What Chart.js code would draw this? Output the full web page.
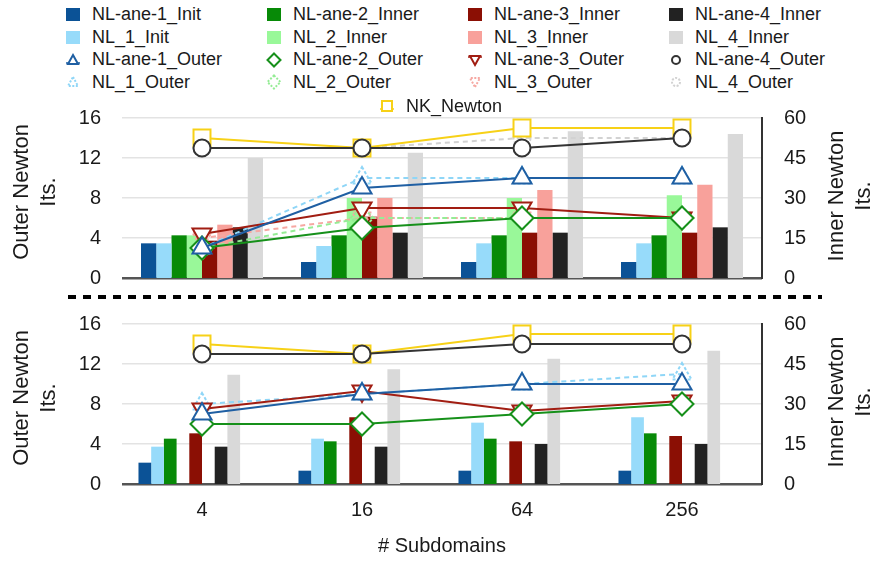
<!DOCTYPE html>
<html>
<head>
<meta charset="utf-8">
<script src="https://cdn.jsdelivr.net/npm/chart.js@4.4.0/dist/chart.umd.min.js"></script>
<style>
  body { margin: 0; background: #fff; width: 873px; height: 561px; overflow: hidden; position: relative;
         font-family: "Liberation Sans", Arial, sans-serif; color: #1a1a1a; }
  #legend { position: absolute; left: 65px; top: 3px; display: grid; grid-template-columns: repeat(4, 201px);
            grid-auto-rows: 22.7px; font-size: 18px; z-index: 2; }
  #nk { position: absolute; left: 379px; top: 95px; height: 22px; font-size: 18px; z-index: 2; }
  .item { display: flex; align-items: center; white-space: nowrap; }
  .item svg { width: 16px; height: 16px; margin-right: 11px; flex: none; }
  canvas { position: absolute; left: 0; }
  #upper { top: 100px; }
  #lower { top: 300px; }
</style>
</head>
<body>
<div id="legend"></div>
<div id="nk"></div>
<canvas id="upper" width="873" height="200"></canvas>
<canvas id="lower" width="873" height="261"></canvas>
<script>
// x categories
const subdomains = ['4', '16', '64', '256'];

// upper panel - inner newton its. (right axis)
const up_ane1_init  = [13, 6, 6, 6];
const up_nl1_init   = [13, 12, 13, 13];
const up_ane2_inner = [16, 16, 16, 16];
const up_nl2_inner  = [16, 30, 30, 31];
const up_ane3_inner = [14, 23, 17, 17];
const up_nl3_inner  = [20, 30, 33, 35];
const up_ane4_inner = [19, 17, 17, 19];
const up_nl4_inner  = [45, 47, 55, 54];

// upper panel - outer newton its. (left axis)
const up_ane1_outer = [3, 9, 10, 10];
const up_nl1_outer  = [3, 10, 10, 10];
const up_ane2_outer = [3, 5, 6, 6];
const up_nl2_outer  = [3, 6, 6, 6];
const up_ane3_outer = [4.4, 7, 7, 6];
const up_nl3_outer  = [4, 6, 6, 6];
const up_ane4_outer = [13, 13, 13, 14];
const up_nl4_outer  = [13, 13, 14, 14];
const up_nk_newton  = [14, 13, 15, 15];

// lower panel - inner newton its. (right axis)
const lo_ane1_init  = [8, 5, 5, 5];
const lo_nl1_init   = [14, 17, 23, 25];
const lo_ane2_inner = [17, 16, 17, 19];
const lo_nl2_inner  = [null, null, null, null];
const lo_ane3_inner = [19, 25, 16, 18];
const lo_nl3_inner  = [null, null, null, null];
const lo_ane4_inner = [14, 14, 15, 15];
const lo_nl4_inner  = [41, 43, 47, 50];
const lo_spacer     = [null, null, null, null];

// lower panel - outer newton its. (left axis)
const lo_ane1_outer = [7, 9, 10, 10];
const lo_nl1_outer  = [8, 9, 10, 11];
const lo_ane2_outer = [6, 6, 7, 8];
const lo_ane3_outer = [7.5, 9.3, 7.3, 8.3];
const lo_ane4_outer = [13, 13, 14, 14];
const lo_nk_newton  = [14, 13, 15, 15];

const bar_colors = {
    'NL-ane-1_Init': '#0b5296',
    'NL_1_Init': '#97dbfa',
    'NL-ane-2_Inner': '#078a07',
    'NL_2_Inner': '#99f899',
    'NL-ane-3_Inner': '#8b0f04',
    'NL_3_Inner': '#f8a19b',
    'NL-ane-4_Inner': '#222222',
    'NL_4_Inner': '#d9d9d9'
};

const line_style = {
    'NL-ane-1_Outer': { color: '#1f5fa3', point: 'triangle', r: 11 },
    'NL-ane-4_Outer': { color: '#333333', point: 'circle', r: 8.5 },
    'NL-ane-2_Outer': { color: '#16901a', point: 'rectRot', r: 11.5 },
    'NL-ane-3_Outer': { color: '#a11d12', point: 'triangle', r: 11, rot: 180 },
    'NK_Newton':      { color: '#f7d117', point: 'rect', r: 12 },
    'NL_1_Outer':     { color: '#8fd6f7', point: 'triangle', r: 11, dashed: true },
    'NL_2_Outer':     { color: '#95ec95', point: 'rectRot', r: 11.5, dashed: true },
    'NL_3_Outer':     { color: '#f6a8a2', point: 'triangle', r: 11, rot: 180, dashed: true },
    'NL_4_Outer':     { color: '#d2d2d2', point: 'circle', r: 8.5, dashed: true }
};

const legend_rows = [
    ['NL-ane-1_Init', 'NL-ane-2_Inner', 'NL-ane-3_Inner', 'NL-ane-4_Inner'],
    ['NL_1_Init', 'NL_2_Inner', 'NL_3_Inner', 'NL_4_Inner'],
    ['NL-ane-1_Outer', 'NL-ane-2_Outer', 'NL-ane-3_Outer', 'NL-ane-4_Outer'],
    ['NL_1_Outer', 'NL_2_Outer', 'NL_3_Outer', 'NL_4_Outer']
];

Chart.defaults.font.family = '"Liberation Sans", Arial, sans-serif';
Chart.defaults.color = '#1a1a1a';

function legend_icon(key)
{
    if (bar_colors[key]) {
        return '<svg viewBox="0 0 16 16"><rect x="1" y="2" width="14" height="13" fill="' + bar_colors[key] + '"/></svg>';
    }
    const s = line_style[key];
    const dash = s.dashed ? ' stroke-dasharray="2 1.5"' : '';
    const fill = s.dashed ? 'none' : '#fff';
    const attr = ' fill="' + fill + '" stroke="' + s.color + '" stroke-width="2"' + dash;
    let shape = '';
    if (s.point == 'triangle' && !s.rot) shape = '<polygon points="8,3 13,12 3,12"' + attr + '/>';
    if (s.point == 'triangle' && s.rot) shape = '<polygon points="8,13 13,4 3,4"' + attr + '/>';
    if (s.point == 'rectRot') shape = '<polygon points="8,1.5 14.5,8 8,14.5 1.5,8"' + attr + '/>';
    if (s.point == 'circle') shape = '<circle cx="8" cy="8" r="4"' + attr + '/>';
    if (s.point == 'rect') shape = '<rect x="3" y="3" width="10" height="10"' + attr + '/>';
    let line = '';
    if (!s.dashed && s.point != 'rectRot' && s.point != 'circle') {
        line = '<line x1="1" y1="' + (s.rot ? 5 : 11) + '" x2="15" y2="' + (s.rot ? 5 : 11) + '" stroke="' + s.color + '" stroke-width="1.5"/>';
    }
    return '<svg viewBox="0 0 16 16">' + line + shape + '</svg>';
}

function build_legend()
{
    let html = '';
    legend_rows.forEach(function(row) {
        row.forEach(function(key) {
            html += '<div class="item">' + legend_icon(key) + '<span>' + key + '</span></div>';
        });
    });
    document.getElementById('legend').innerHTML = html;
    document.getElementById('nk').innerHTML = '<div class="item" style="height:22px">' + legend_icon('NK_Newton') + '<span>NK_Newton</span></div>';
}

function bar_dataset(key, data, pct)
{
    return {
        type: 'bar',
        label: key,
        data: data,
        yAxisID: 'yR',
        order: 1,
        backgroundColor: bar_colors[key] || 'rgba(0,0,0,0)',
        borderWidth: 0,
        categoryPercentage: pct,
        barPercentage: 1
    };
}

function line_dataset(key, data)
{
    const s = line_style[key];
    return {
        type: 'line',
        label: key,
        data: data,
        yAxisID: 'yL',
        order: 0,
        borderColor: s.color,
        borderWidth: 2,
        borderDash: s.dashed ? [5, 4] : [],
        pointStyle: s.point,
        pointRadius: s.r,
        pointRotation: s.rot || 0,
        pointBorderColor: s.color,
        pointBackgroundColor: s.dashed ? 'rgba(0,0,0,0)' : '#fff',
        pointBorderWidth: 2,
        clip: false,
        dashed_points: !!s.dashed
    };
}

// dashed outline on the markers of the NL_x_Outer lines
const dashed_points = {
    id: 'dashed_points',
    beforeDatasetDraw(chart, args) {
        if (chart.data.datasets[args.index].dashed_points) chart.ctx.setLineDash([3, 2]);
    },
    afterDatasetDraw(chart) {
        chart.ctx.setLineDash([]);
    }
};

function rotated_text(ctx, text, x, y)
{
    ctx.save();
    ctx.translate(x, y);
    ctx.rotate(-Math.PI / 2);
    ctx.fillText(text, 0, 0);
    ctx.restore();
}

const side_titles = {
    id: 'side_titles',
    afterDraw(chart, args, opts) {
        const ctx = chart.ctx;
        const a = chart.chartArea;
        const cy = (a.top + a.bottom) / 2;
        ctx.save();
        ctx.fillStyle = '#1a1a1a';
        ctx.font = '22px "Liberation Sans", Arial, sans-serif';
        ctx.textAlign = 'center';
        ctx.textBaseline = 'middle';
        rotated_text(ctx, 'Outer Newton', 22, cy - 6);
        rotated_text(ctx, 'Its.', 49, cy - 6);
        rotated_text(ctx, 'Inner Newton', 837, cy - 2);
        rotated_text(ctx, 'Its.', 864, cy - 2);
        if (opts.separator) {
            ctx.strokeStyle = '#000';
            ctx.lineWidth = 4;
            ctx.setLineDash([8, 7]);
            ctx.beginPath();
            ctx.moveTo(68, 197);
            ctx.lineTo(822, 197);
            ctx.stroke();
        }
        ctx.restore();
    }
};

function make_chart(id, datasets, show_x, pad_top, x_height, separator)
{
    return new Chart(document.getElementById(id), {
        type: 'bar',
        data: { labels: subdomains, datasets: datasets },
        plugins: [dashed_points, side_titles],
        options: {
            responsive: false,
            animation: false,
            layout: { autoPadding: false, padding: { top: pad_top, bottom: 0, left: 0, right: 0 } },
            plugins: {
                legend: { display: false },
                tooltip: { enabled: false },
                side_titles: { separator: separator }
            },
            scales: {
                x: {
                    display: true,
                    grid: { display: false },
                    border: { display: false },
                    ticks: { display: show_x, font: { size: 20 }, color: '#1a1a1a', padding: 6 },
                    title: {
                        display: show_x,
                        text: '# Subdomains',
                        font: { size: 20 },
                        color: '#1a1a1a',
                        padding: { top: 0, bottom: 3 }
                    },
                    afterFit: function(s) { s.height = x_height; }
                },
                yL: {
                    position: 'left',
                    min: 0,
                    max: 16,
                    ticks: { stepSize: 4, font: { size: 20 }, color: '#1a1a1a', padding: 0 },
                    grid: {
                        drawTicks: true,
                        tickLength: 21,
                        tickColor: 'rgba(0,0,0,0)',
                        color: function(c) { return c.tick.value === 0 ? '#555' : '#e3e3e3'; },
                        lineWidth: function(c) { return c.tick.value === 0 ? 2.5 : 1.5; }
                    },
                    border: { display: false },
                    afterFit: function(s) { s.width = 122; }
                },
                yR: {
                    position: 'right',
                    min: 0,
                    max: 60,
                    ticks: { stepSize: 15, font: { size: 20 }, color: '#1a1a1a', padding: 0 },
                    grid: { display: false, drawTicks: true, tickLength: 22 },
                    border: { display: true, color: '#333', width: 2 },
                    afterFit: function(s) { s.width = 111; }
                }
            }
        }
    });
}

build_legend();

const up_pct = 0.7625;
const upper_sets = [
    line_dataset('NL-ane-1_Outer', up_ane1_outer),
    line_dataset('NL-ane-4_Outer', up_ane4_outer),
    line_dataset('NL-ane-2_Outer', up_ane2_outer),
    line_dataset('NL-ane-3_Outer', up_ane3_outer),
    line_dataset('NK_Newton', up_nk_newton),
    line_dataset('NL_1_Outer', up_nl1_outer),
    line_dataset('NL_2_Outer', up_nl2_outer),
    line_dataset('NL_3_Outer', up_nl3_outer),
    line_dataset('NL_4_Outer', up_nl4_outer),
    bar_dataset('NL-ane-1_Init', up_ane1_init, up_pct),
    bar_dataset('NL_1_Init', up_nl1_init, up_pct),
    bar_dataset('NL-ane-2_Inner', up_ane2_inner, up_pct),
    bar_dataset('NL_2_Inner', up_nl2_inner, up_pct),
    bar_dataset('NL-ane-3_Inner', up_ane3_inner, up_pct),
    bar_dataset('NL_3_Inner', up_nl3_inner, up_pct),
    bar_dataset('NL-ane-4_Inner', up_ane4_inner, up_pct),
    bar_dataset('NL_4_Inner', up_nl4_inner, up_pct)
];

const lo_pct = 0.794;
const lower_sets = [
    line_dataset('NL-ane-1_Outer', lo_ane1_outer),
    line_dataset('NL-ane-4_Outer', lo_ane4_outer),
    line_dataset('NL-ane-2_Outer', lo_ane2_outer),
    line_dataset('NL-ane-3_Outer', lo_ane3_outer),
    line_dataset('NK_Newton', lo_nk_newton),
    line_dataset('NL_1_Outer', lo_nl1_outer),
    bar_dataset('NL-ane-1_Init', lo_ane1_init, lo_pct),
    bar_dataset('NL_1_Init', lo_nl1_init, lo_pct),
    bar_dataset('NL-ane-2_Inner', lo_ane2_inner, lo_pct),
    bar_dataset('NL_2_Inner', lo_nl2_inner, lo_pct),
    bar_dataset('NL-ane-3_Inner', lo_ane3_inner, lo_pct),
    bar_dataset('NL_3_Inner', lo_nl3_inner, lo_pct),
    bar_dataset('NL-ane-4_Inner', lo_ane4_inner, lo_pct),
    bar_dataset('NL_4_Inner', lo_nl4_inner, lo_pct),
    bar_dataset('spacer_1', lo_spacer, lo_pct),
    bar_dataset('spacer_2', lo_spacer, lo_pct)
];

make_chart('upper', upper_sets, false, 18, 22, true);
make_chart('lower', lower_sets, true, 24, 77, false);
</script>
</body>
</html>
